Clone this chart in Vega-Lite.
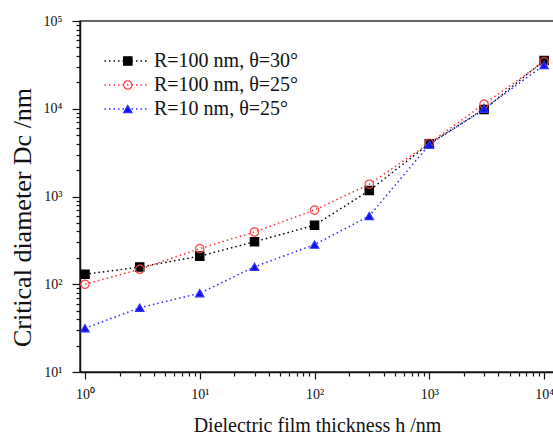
{
  "$schema": "https://vega.github.io/schema/vega-lite/v6.json",
  "width": 474,
  "height": 351,
  "autosize": {"type": "none"},
  "padding": {"left": 80, "top": 21, "right": 0, "bottom": 64},
  "background": "white",
  "config": {
    "view": {"stroke": "#333333", "strokeWidth": 1.5},
    "font": "Liberation Serif",
    "axis": {
      "grid": false,
      "domainColor": "#111111",
      "domainWidth": 1.5,
      "tickColor": "#111111",
      "tickWidth": 1.2,
      "labelFont": "Liberation Serif",
      "labelFontSize": 14,
      "labelColor": "#111111",
      "labelOverlap": false,
      "labelFlush": false,
      "titleFont": "Liberation Serif",
      "titleFontWeight": "normal",
      "titleColor": "#111111"
    }
  },
  "data": {
    "values": [
      {"h": 1, "D": 130, "series": "R=100 nm, θ=30°"},
      {"h": 3, "D": 157, "series": "R=100 nm, θ=30°"},
      {"h": 10, "D": 209, "series": "R=100 nm, θ=30°"},
      {"h": 30, "D": 305, "series": "R=100 nm, θ=30°"},
      {"h": 100, "D": 470, "series": "R=100 nm, θ=30°"},
      {"h": 300, "D": 1170, "series": "R=100 nm, θ=30°"},
      {"h": 1000, "D": 4000, "series": "R=100 nm, θ=30°"},
      {"h": 3000, "D": 9800, "series": "R=100 nm, θ=30°"},
      {"h": 10000, "D": 35500, "series": "R=100 nm, θ=30°"},
      {"h": 1, "D": 100, "series": "R=100 nm, θ=25°"},
      {"h": 3, "D": 148, "series": "R=100 nm, θ=25°"},
      {"h": 10, "D": 255, "series": "R=100 nm, θ=25°"},
      {"h": 30, "D": 394, "series": "R=100 nm, θ=25°"},
      {"h": 100, "D": 700, "series": "R=100 nm, θ=25°"},
      {"h": 300, "D": 1380, "series": "R=100 nm, θ=25°"},
      {"h": 1000, "D": 4050, "series": "R=100 nm, θ=25°"},
      {"h": 3000, "D": 11300, "series": "R=100 nm, θ=25°"},
      {"h": 10000, "D": 34500, "series": "R=100 nm, θ=25°"},
      {"h": 1, "D": 31.5, "series": "R=10 nm, θ=25°"},
      {"h": 3, "D": 54, "series": "R=10 nm, θ=25°"},
      {"h": 10, "D": 79, "series": "R=10 nm, θ=25°"},
      {"h": 30, "D": 158, "series": "R=10 nm, θ=25°"},
      {"h": 100, "D": 283, "series": "R=10 nm, θ=25°"},
      {"h": 300, "D": 600, "series": "R=10 nm, θ=25°"},
      {"h": 1000, "D": 3900, "series": "R=10 nm, θ=25°"},
      {"h": 3000, "D": 10000, "series": "R=10 nm, θ=25°"},
      {"h": 10000, "D": 31500, "series": "R=10 nm, θ=25°"}
    ]
  },
  "encoding": {
    "x": {
      "field": "h",
      "type": "quantitative",
      "scale": {"type": "log", "domain": [0.905, 12200], "nice": false},
      "axis": {
        "title": "Dielectric film thickness h /nm",
        "titleFontSize": 20,
        "titlePadding": 14,
        "values": [1,2,3,4,5,6,7,8,9,10,20,30,40,50,60,70,80,90,100,200,300,400,500,600,700,800,900,1000,2000,3000,4000,5000,6000,7000,8000,9000,10000],
        "labelExpr": "abs(log(datum.value)/LN10 - round(log(datum.value)/LN10)) < 0.001 ? '10' + substring('⁰¹²³⁴⁵', round(log(datum.value)/LN10), round(log(datum.value)/LN10)+1) : ''",
        "tickSize": {"condition": {"test": "abs(log(datum.value)/LN10 - round(log(datum.value)/LN10)) < 0.001", "value": 7}, "value": 4},
        "labelPadding": 8
      }
    },
    "y": {
      "field": "D",
      "type": "quantitative",
      "scale": {"type": "log", "domain": [10, 100000], "nice": false},
      "axis": {
        "title": "Critical diameter Dc /nm",
        "titleFontSize": 26,
        "titlePadding": 8,
        "titleY": 196,
        "values": [10,20,30,40,50,60,70,80,90,100,200,300,400,500,600,700,800,900,1000,2000,3000,4000,5000,6000,7000,8000,9000,10000,20000,30000,40000,50000,60000,70000,80000,90000,100000],
        "labelExpr": "abs(log(datum.value)/LN10 - round(log(datum.value)/LN10)) < 0.001 ? '10' + substring('⁰¹²³⁴⁵', round(log(datum.value)/LN10), round(log(datum.value)/LN10)+1) : ''",
        "tickSize": {"condition": {"test": "abs(log(datum.value)/LN10 - round(log(datum.value)/LN10)) < 0.001", "value": 8}, "value": 4},
        "labelPadding": 10
      }
    }
  },
  "layer": [
    {
      "mark": {"type": "line", "strokeDash": [1.5, 3], "strokeWidth": 1.5},
      "encoding": {
        "color": {
          "field": "series",
          "type": "nominal",
          "scale": {"domain": ["R=100 nm, θ=30°", "R=100 nm, θ=25°", "R=10 nm, θ=25°"], "range": ["#000000", "#ff3030", "#2a2aff"]},
          "legend": {
            "orient": "none", "legendX": 36.5, "legendY": 30, "title": null, "padding": 0,
            "symbolType": "M-4,0H4", "symbolSize": 121, "symbolStrokeWidth": 1.5, "symbolDash": [1.5, 3],
            "labelOffset": 17.5, "labelFontSize": 20, "labelFont": "Liberation Serif", "labelColor": "#111111",
            "rowPadding": 4, "labelLimit": 300
          }
        }
      }
    },
    {
      "transform": [{"calculate": "datum.series", "as": "s2"}],
      "mark": {"type": "point", "size": 70, "strokeWidth": 1.2, "opacity": 1},
      "encoding": {
        "shape": {
          "field": "s2", "type": "nominal", "sort": null,
          "scale": {"range": ["square", "circle", "triangle-up"]},
          "legend": {"orient": "none", "legendX": 37.8, "legendY": 30, "title": null, "padding": 0, "symbolSize": 70, "symbolStrokeWidth": 1.2, "labelFontSize": 20, "labelExpr": "''", "rowPadding": 4}
        },
        "fill": {
          "field": "s2", "type": "nominal", "sort": null,
          "scale": {"range": ["#000000", "transparent", "#1010ee"]},
          "legend": {"orient": "none", "legendX": 37.8, "legendY": 30, "title": null, "padding": 0, "symbolSize": 70, "symbolStrokeWidth": 1.2, "labelFontSize": 20, "labelExpr": "''", "rowPadding": 4}
        },
        "stroke": {
          "field": "s2", "type": "nominal", "sort": null,
          "scale": {"range": ["#000000", "#ff4040", "#3030ff"]},
          "legend": {"orient": "none", "legendX": 37.8, "legendY": 30, "title": null, "padding": 0, "symbolSize": 70, "symbolStrokeWidth": 1.2, "labelFontSize": 20, "labelExpr": "''", "rowPadding": 4}
        }
      }
    },
    {
      "data": {"values": [{}]},
      "mark": {"type": "text", "align": "left", "baseline": "alphabetic", "font": "Liberation Serif", "fontSize": 24, "fontWeight": "bold", "fontStyle": "italic", "color": "#000000"},
      "encoding": {"x": {"datum": 259}, "y": {"datum": 27700}, "text": {"value": "ε"}}
    },
    {
      "data": {"values": [{}]},
      "mark": {"type": "text", "align": "left", "baseline": "alphabetic", "font": "Liberation Serif", "fontSize": 14, "fontWeight": "bold", "dx": 9, "dy": 6, "color": "#000000"},
      "encoding": {"x": {"datum": 259}, "y": {"datum": 27700}, "text": {"value": "r"}}
    },
    {
      "data": {"values": [{}]},
      "mark": {"type": "text", "align": "left", "baseline": "alphabetic", "font": "Liberation Serif", "fontSize": 23, "fontWeight": "bold", "dx": 16, "color": "#000000"},
      "encoding": {"x": {"datum": 259}, "y": {"datum": 27700}, "text": {"value": "=10"}}
    },
    {
      "data": {"values": [{}]},
      "mark": {"type": "text", "align": "left", "baseline": "alphabetic", "font": "Liberation Serif", "fontSize": 21, "fontWeight": "bold", "fontStyle": "italic", "color": "#000000"},
      "encoding": {"x": {"datum": 259}, "y": {"datum": 11300}, "text": {"value": "α"}}
    },
    {
      "data": {"values": [{}]},
      "mark": {"type": "text", "align": "left", "baseline": "alphabetic", "font": "Liberation Serif", "fontSize": 21, "fontWeight": "bold", "dx": 12, "color": "#000000"},
      "encoding": {"x": {"datum": 259}, "y": {"datum": 11300}, "text": {"value": "=0°"}}
    }
  ]
}
